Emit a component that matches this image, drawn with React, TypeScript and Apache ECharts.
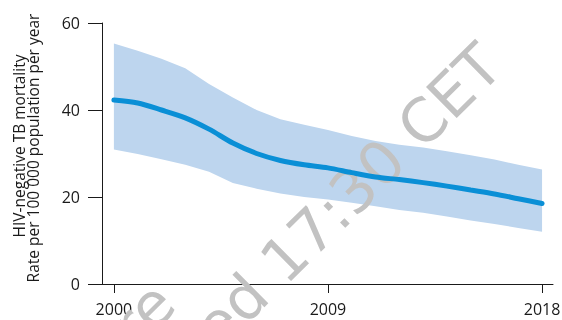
import React, { useEffect, useRef } from "react";
import * as echarts from "echarts";

const years = [2000, 2001, 2002, 2003, 2004, 2005, 2006, 2007, 2008, 2009, 2010, 2011, 2012, 2013, 2014, 2015, 2016, 2017, 2018];
const mortality = [42.3, 41.6, 40.0, 38.2, 35.6, 32.4, 30.0, 28.4, 27.4, 26.7, 25.6, 24.6, 24.0, 23.3, 22.5, 21.6, 20.7, 19.6, 18.5];
const upperBound = [55.3, 53.6, 51.8, 49.6, 46.0, 42.9, 40.0, 37.9, 36.6, 35.4, 34.0, 32.9, 32.0, 31.4, 30.5, 29.6, 28.6, 27.4, 26.3];
const lowerBound = [30.9, 29.9, 28.7, 27.4, 25.8, 23.2, 21.9, 20.8, 20.0, 19.4, 18.7, 17.9, 17.0, 16.4, 15.5, 14.6, 13.8, 12.9, 12.0];
const xTickLabels = [2000, 2009, 2018];
const yTitleLine1 = "HIV-negative TB mortality";
const yTitleLine2 = "Rate per 100 000 population per year";
const watermarkMain = "Embargoed 17:30 CET";
const watermarkUpper = "Do not publish before";

export default function App() {
  const ref = useRef<HTMLDivElement>(null);
  useEffect(() => {
    if (!ref.current) return;
    const chart = echarts.init(ref.current, null, { renderer: "svg" });
    const font = "'Open Sans', 'Noto Sans', sans-serif";
    const wmFont = "'DejaVu Sans', sans-serif";
    const axisColor = "#1a1a1a";
    const angle = (44.5 * Math.PI) / 180;
    chart.setOption({
      animation: false,
      grid: { left: 102, right: 9, top: 23, bottom: 36, containLabel: false, outerBoundsMode: "none" },
      xAxis: {
        type: "value",
        min: 1999.5,
        max: 2018.46,
        splitLine: { show: false },
        axisLine: { show: true, lineStyle: { color: axisColor, width: 1 } },
        axisTick: { show: true, length: 9, customValues: xTickLabels, lineStyle: { color: axisColor } },
        axisLabel: { customValues: xTickLabels, margin: 17, color: "#1a1a1a", fontSize: 16, fontFamily: font, formatter: (v: number) => String(v) },
      },
      yAxis: {
        type: "value",
        min: 0,
        max: 60,
        interval: 20,
        splitLine: { show: false },
        axisLine: { show: true, lineStyle: { color: axisColor, width: 1 } },
        axisTick: { show: true, length: 14, lineStyle: { color: axisColor } },
        axisLabel: { margin: 22, color: "#1a1a1a", fontSize: 16, fontFamily: font },
      },
      graphic: [
        {
          type: "text",
          x: 19,
          y: 146,
          rotation: Math.PI / 2,
          style: { text: yTitleLine1, fill: "#1a1a1a", font: `15.5px ${font}`, textAlign: "center", textVerticalAlign: "middle" },
        },
        {
          type: "text",
          x: 33,
          y: 148,
          rotation: Math.PI / 2,
          style: { text: yTitleLine2, fill: "#1a1a1a", font: `15.5px ${font}`, textAlign: "center", textVerticalAlign: "middle" },
        },
        {
          type: "text",
          x: 491,
          y: 55,
          rotation: angle,
          z: 5,
          silent: true,
          style: { text: watermarkMain, fill: "#c2c2c2", font: `60px ${wmFont}`, textAlign: "right", textVerticalAlign: "middle" },
        },
        {
          type: "text",
          x: 164,
          y: 293,
          rotation: angle,
          z: 5,
          silent: true,
          style: { text: watermarkUpper, fill: "#c2c2c2", font: `60px ${wmFont}`, textAlign: "right", textVerticalAlign: "middle" },
        },
      ],
      series: [
        {
          type: "custom",
          data: [0],
          z: 2,
          silent: true,
          renderItem: (_params: any, api: any) => {
            const pts: number[][] = [];
            years.forEach((y, i) => pts.push(api.coord([y, upperBound[i]])));
            for (let i = years.length - 1; i >= 0; i--) pts.push(api.coord([years[i], lowerBound[i]]));
            return { type: "polygon", shape: { points: pts }, style: { fill: "#bdd5ee" } };
          },
        },
        {
          type: "line",
          data: years.map((y, i) => [y, mortality[i]]),
          symbol: "none",
          smooth: 0.3,
          lineStyle: { color: "#0a8fd6", width: 5, cap: "round" },
          z: 10,
        },
      ],
    });
    return () => chart.dispose();
  }, []);
  return <div ref={ref} style={{ position: "fixed", left: 0, top: 0, width: 562, height: 320 }} />;
}
